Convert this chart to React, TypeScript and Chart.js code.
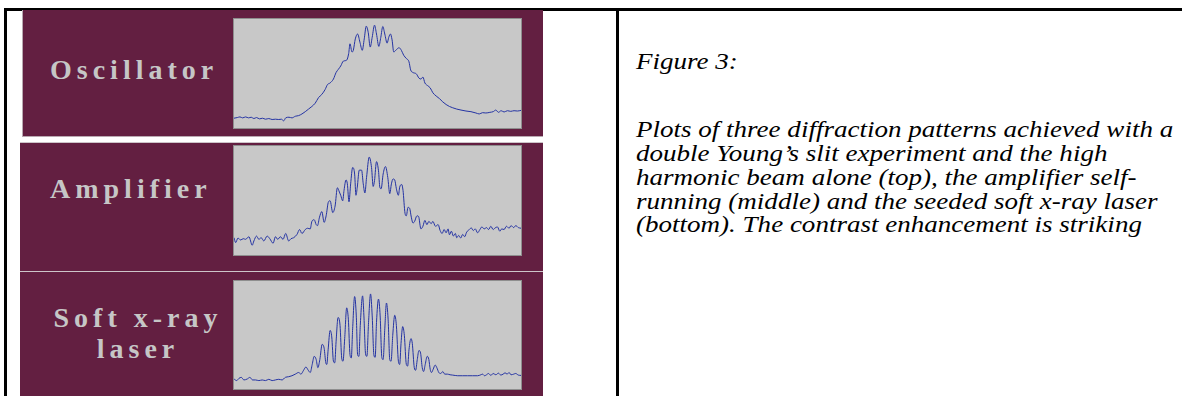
import React, { useEffect, useRef } from "react";
import { Chart, registerables } from "chart.js";

Chart.register(...registerables);

// Panel labels
const panelLabels = ["Oscillator", "Amplifier", "Soft x-ray", "laser"];

// Caption
const captionTitle = "Figure 3:";
const captionLines = [
  "Plots of three diffraction patterns achieved with a",
  "double Young\u2019s slit experiment and the high",
  "harmonic beam alone (top), the amplifier self-",
  "running (middle) and the seeded soft x-ray laser",
  "(bottom). The contrast enhancement is striking",
];

// Oscillator (top) trace: position vs intensity (arbitrary units)
const oscX = [0, 10, 18, 26, 35, 44, 52, 60, 68, 77, 86, 95, 105, 115, 125, 135, 143, 150, 156, 166, 175, 185, 195, 205, 215, 225, 235, 245, 255, 265, 275, 282, 290, 300, 308, 315, 322, 330, 340, 346, 350, 356, 360, 366, 373, 380, 387, 393, 399, 405, 411, 417, 424, 430, 437, 443, 449, 455, 462, 467, 472, 477, 482, 490, 498, 505, 512, 520, 528, 533, 540, 550, 558, 564, 570, 576, 584, 592, 600, 610, 620, 630, 640, 650, 660, 672, 685, 700, 715, 730, 740, 750, 760, 772, 782, 790, 798, 806, 815, 825, 835, 845, 855, 866];
const oscY = [30, 32, 34, 31, 34, 31, 33, 29, 32, 28, 30, 27, 29, 26, 27, 26, 27, 22, 31, 33, 31, 36, 38, 43, 50, 58, 66, 76, 93, 103, 118, 133, 138, 150, 170, 180, 190, 205, 208, 228, 258, 233, 238, 273, 288, 263, 238, 273, 312, 293, 248, 278, 315, 288, 250, 278, 311, 288, 260, 278, 288, 270, 233, 240, 246, 238, 223, 213, 203, 178, 170, 166, 153, 150, 156, 138, 130, 123, 108, 98, 90, 80, 72, 66, 62, 58, 55, 52, 50, 46, 43, 47, 46, 48, 50, 55, 48, 53, 49, 53, 51, 53, 52, 54];

// Amplifier (middle) trace
const ampX = [0, 5, 12, 20, 28, 35, 45, 55, 60, 68, 75, 82, 90, 100, 108, 118, 125, 132, 140, 148, 156, 165, 172, 180, 190, 198, 205, 215, 222, 230, 235, 242, 248, 252, 258, 265, 272, 278, 285, 290, 298, 305, 312, 318, 322, 328, 332, 338, 342, 347, 352, 358, 364, 368, 372, 378, 385, 390, 395, 400, 408, 415, 420, 424, 430, 436, 440, 444, 450, 457, 464, 470, 475, 480, 485, 490, 496, 500, 506, 510, 516, 520, 525, 530, 535, 540, 545, 552, 557, 564, 570, 576, 582, 588, 595, 600, 608, 616, 622, 628, 634, 640, 646, 650, 656, 662, 668, 672, 678, 684, 690, 696, 702, 710, 716, 722, 728, 735, 742, 748, 755, 762, 768, 775, 782, 788, 795, 802, 808, 815, 822, 830, 836, 844, 850, 858, 866];
const ampY = [53, 38, 52, 46, 50, 48, 56, 30, 43, 58, 48, 53, 43, 58, 50, 36, 56, 48, 56, 48, 66, 43, 50, 53, 63, 78, 66, 78, 82, 80, 103, 108, 93, 90, 116, 133, 100, 120, 163, 166, 130, 150, 206, 193, 183, 166, 198, 230, 218, 163, 218, 268, 248, 183, 208, 260, 260, 218, 190, 238, 300, 268, 210, 228, 286, 258, 208, 203, 248, 271, 238, 188, 218, 233, 230, 203, 183, 208, 216, 198, 128, 120, 146, 143, 116, 98, 103, 120, 118, 80, 88, 106, 93, 103, 96, 103, 88, 93, 75, 66, 78, 68, 80, 62, 73, 58, 66, 53, 60, 52, 63, 56, 70, 78, 83, 75, 80, 68, 78, 86, 80, 84, 78, 88, 78, 83, 86, 73, 80, 78, 88, 82, 90, 84, 90, 84, 82];

// Soft x-ray laser (bottom) trace
const laserX = [0, 8, 15, 22, 30, 40, 48, 56, 65, 75, 85, 95, 105, 115, 125, 135, 145, 155, 165, 175, 185, 195, 202, 210, 217, 224, 230, 236, 242, 248, 253, 259, 266, 272, 277, 280, 284, 290, 295, 300, 304, 308, 314, 320, 325, 329, 334, 340, 345, 350, 354, 358, 364, 369, 373, 377, 381, 388, 392, 397, 401, 406, 412, 417, 422, 426, 430, 436, 441, 446, 450, 455, 460, 465, 470, 474, 479, 485, 490, 496, 500, 504, 509, 514, 520, 524, 528, 534, 538, 544, 548, 553, 558, 563, 568, 572, 577, 583, 588, 592, 596, 601, 607, 612, 618, 624, 630, 636, 644, 652, 660, 675, 690, 705, 720, 735, 745, 750, 756, 762, 768, 775, 782, 790, 798, 805, 812, 818, 824, 830, 836, 844, 850, 858, 866];
const laserY = [31, 26, 33, 36, 28, 31, 36, 28, 28, 26, 28, 26, 30, 26, 28, 30, 28, 36, 38, 41, 46, 51, 46, 58, 68, 58, 51, 76, 101, 91, 66, 91, 138, 126, 81, 76, 121, 181, 161, 86, 81, 146, 221, 196, 96, 86, 156, 251, 216, 106, 96, 186, 286, 226, 106, 101, 196, 288, 226, 108, 101, 206, 294, 226, 106, 98, 206, 278, 226, 98, 91, 186, 266, 216, 91, 86, 166, 228, 196, 86, 76, 141, 193, 166, 76, 71, 121, 156, 141, 66, 58, 91, 119, 111, 66, 54, 76, 101, 91, 61, 51, 61, 74, 66, 51, 48, 54, 46, 46, 44, 43, 41, 41, 41, 41, 41, 44, 46, 41, 44, 48, 42, 48, 44, 49, 43, 46, 50, 46, 51, 44, 46, 48, 43, 42];

const X_MAX = 866;
const Y_MAX = 334;

const LINE_COLOR = "#2433a3";
const MAROON = "#631f41";
const LABEL_COLOR = "#c6c6c6";

function Trace(props: { xs: number[]; ys: number[]; left: number; top: number; width: number; height: number }) {
  const { xs, ys, left, top, width, height } = props;
  const ref = useRef<HTMLCanvasElement>(null);
  useEffect(() => {
    if (!ref.current) return;
    const chart = new Chart(ref.current, {
      type: "line",
      data: {
        datasets: [
          {
            data: xs.map((x, i) => ({ x, y: ys[i] })),
            borderColor: LINE_COLOR,
            borderWidth: 1,
            pointRadius: 0,
            cubicInterpolationMode: "monotone",
            fill: false,
          },
        ],
      },
      options: {
        responsive: false,
        animation: false,
        events: [],
        layout: { padding: 0 },
        plugins: { legend: { display: false }, tooltip: { enabled: false } },
        scales: {
          x: { type: "linear", display: false, min: 0, max: X_MAX },
          y: { type: "linear", display: false, min: 0, max: Y_MAX },
        },
      },
    });
    return () => chart.destroy();
  }, []);
  return (
    <div
      style={{
        position: "absolute",
        left,
        top,
        width,
        height,
        boxSizing: "border-box",
        border: "1px solid #8e8e8e",
        background: "#c8c8c8",
      }}
    >
      <canvas ref={ref} width={width - 2} height={height - 2} style={{ display: "block" }} />
    </div>
  );
}

const labelStyle: React.CSSProperties = {
  position: "absolute",
  fontFamily: "'Liberation Serif', 'Times New Roman', serif",
  fontWeight: "bold",
  fontSize: 28,
  lineHeight: "31px",
  letterSpacing: "5px",
  color: LABEL_COLOR,
  whiteSpace: "nowrap",
};

const captionStyle: React.CSSProperties = {
  position: "absolute",
  left: 636,
  fontFamily: "'Liberation Serif', 'Times New Roman', serif",
  fontStyle: "italic",
  fontSize: 23,
  lineHeight: "23.8px",
  color: "#000",
  whiteSpace: "nowrap",
  transform: "scaleX(1.175)",
  transformOrigin: "left top",
};

export default function App() {
  return (
    <div style={{ position: "fixed", left: 0, top: 0, width: 1182, height: 396, background: "#fff", overflow: "hidden" }}>
      {/* table borders */}
      <div style={{ position: "absolute", left: 4, top: 8, width: 1178, height: 2.5, background: "#000" }} />
      <div style={{ position: "absolute", left: 4, top: 8, width: 2.5, height: 388, background: "#000" }} />
      <div style={{ position: "absolute", left: 616, top: 8, width: 2.5, height: 388, background: "#000" }} />

      {/* panels */}
      <div style={{ position: "absolute", left: 22, top: 10, width: 521, height: 127, background: MAROON, boxSizing: "border-box", borderLeft: "1px solid #b9a9b1", borderBottom: "1px solid #b9a9b1" }} />
      <div style={{ position: "absolute", left: 20, top: 142, width: 523, height: 129, background: MAROON, borderTop: "1px solid #cdc5c9", boxSizing: "border-box" }} />
      <div style={{ position: "absolute", left: 20, top: 271, width: 523, height: 125, background: MAROON, borderTop: "1px solid #cdc5c9", boxSizing: "border-box" }} />

      {/* labels */}
      <div style={{ ...labelStyle, left: 50, top: 54 }}>{panelLabels[0]}</div>
      <div style={{ ...labelStyle, left: 50, top: 173.4 }}>{panelLabels[1]}</div>
      <div style={{ ...labelStyle, left: 36, width: 204, top: 302, textAlign: "center" }}>
        {panelLabels[2]}
        <br />
        {panelLabels[3]}
      </div>

      {/* traces */}
      <Trace xs={oscX} ys={oscY} left={233} top={18} width={289} height={111} />
      <Trace xs={ampX} ys={ampY} left={233} top={145} width={289} height={111} />
      <Trace xs={laserX} ys={laserY} left={233} top={280} width={289} height={110} />

      {/* caption */}
      <div style={{ ...captionStyle, top: 50.2 }}>{captionTitle}</div>
      <div style={{ ...captionStyle, top: 118.2 }}>
        {captionLines.map((l, i) => (
          <div key={i}>{l}</div>
        ))}
      </div>
    </div>
  );
}
